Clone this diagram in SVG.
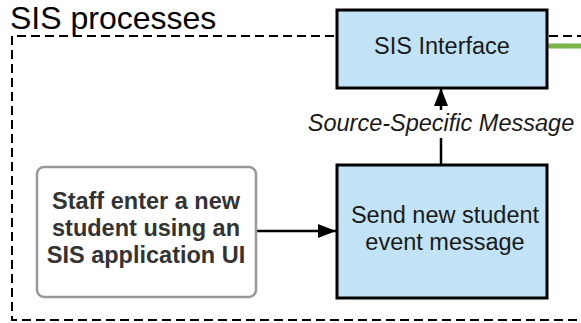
<svg xmlns="http://www.w3.org/2000/svg" width="581" height="323" viewBox="0 0 581 323">
<defs>
<style>
text{font-family:"Liberation Sans",Arial,sans-serif;}
.box{fill:#c1e3f5;stroke:#000;stroke-width:3;}
.lbl{font-size:23.5px;fill:#1a1a1a;text-anchor:middle;}
.bold{font-weight:bold;fill:#333;}
.conn{stroke:#000;stroke-width:2.5;fill:none;}
</style>
<marker id="ah" markerWidth="18" markerHeight="14" refX="18" refY="7" orient="auto" markerUnits="userSpaceOnUse" viewBox="0 0 18 14">
<path d="M0,0 L18,7 L0,14 z" fill="#000"/>
</marker>
</defs>
<rect width="581" height="323" fill="#fff"/>
<g id="container">
<path d="M600,36 H12 V320 H600" fill="none" stroke="#000" stroke-width="2" stroke-dasharray="9,5"/>
<text x="10" y="29" font-size="32" fill="#000">SIS processes</text>
</g>
<g id="connectors">
<line class="conn" x1="256" y1="231" x2="336" y2="231" marker-end="url(#ah)"/>
<line class="conn" x1="441" y1="165" x2="441" y2="88" marker-end="url(#ah)"/>
<line x1="548" y1="46" x2="581" y2="46" stroke="#7ab648" stroke-width="5"/>
<rect x="300" y="110" width="281" height="28" fill="#fff"/>
<text x="441" y="131" class="lbl" font-style="italic">Source-Specific Message</text>
</g>
<g id="sis-interface">
<rect class="box" x="337" y="10" width="210" height="78"/>
<text x="442" y="54" class="lbl">SIS Interface</text>
</g>
<g id="staff-enter">
<rect x="37" y="167" width="219" height="130" rx="7" fill="#fff" stroke="#999" stroke-width="2.5"/>
<text x="146" y="209" class="lbl bold">Staff enter a new</text>
<text x="146" y="236" class="lbl bold">student using an</text>
<text x="146" y="263" class="lbl bold">SIS application UI</text>
</g>
<g id="send-event">
<rect class="box" x="337" y="165" width="210" height="133"/>
<text x="445" y="223" class="lbl">Send new student</text>
<text x="445" y="250" class="lbl">event message</text>
</g>
</svg>
